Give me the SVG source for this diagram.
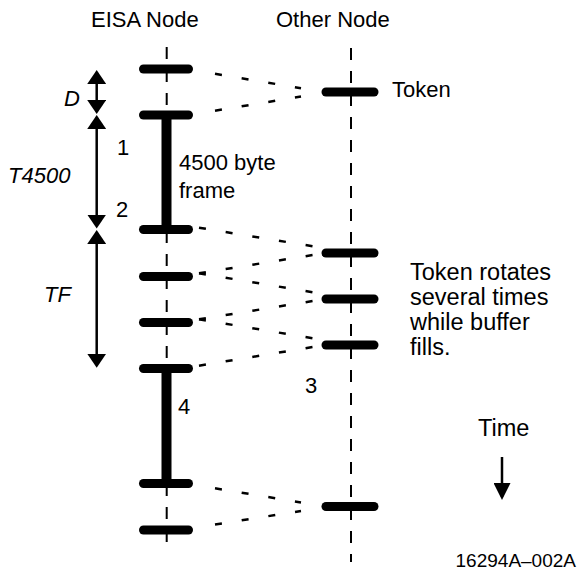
<svg xmlns="http://www.w3.org/2000/svg" width="577" height="580" viewBox="0 0 577 580">
<style>
text{font-family:"Liberation Sans",Arial,Helvetica,sans-serif;fill:#000}
.lbl{font-size:22px}
.big{font-size:23.5px}
.it{font-size:22px;font-style:italic}
.life{stroke:#000;stroke-width:2;stroke-dasharray:12 11;fill:none}
.bar{stroke:#000;stroke-width:9;stroke-linecap:round}
.frame{stroke:#000;stroke-width:10}
.msg{stroke:#000;stroke-width:2.5;stroke-dasharray:7 20;fill:none}
.dim{stroke:#000;stroke-width:2.5;fill:none;marker-start:url(#ah);marker-end:url(#ah)}
</style>
<defs>
<marker id="ah" viewBox="0 0 14 19" refX="11" refY="9.5" markerWidth="14" markerHeight="19" markerUnits="userSpaceOnUse" orient="auto-start-reverse">
<path d="M0,0 L14,9.5 L0,19 z" fill="#000"/>
</marker>
<marker id="ah2" viewBox="0 0 17 17" refX="14" refY="8.5" markerWidth="17" markerHeight="17" markerUnits="userSpaceOnUse" orient="auto">
<path d="M0,0 L17,8.5 L0,17 z" fill="#000"/>
</marker>
</defs>

<g id="eisa-node">
<text class="lbl" x="91" y="27">EISA Node</text>
<line class="life" x1="166.7" y1="47" x2="166.7" y2="542"/>
<line class="frame" x1="166.5" y1="115" x2="166.5" y2="229.5"/>
<line class="frame" x1="166.5" y1="368.5" x2="166.5" y2="483.5"/>
<line class="bar" x1="143.5" y1="69" x2="188.5" y2="69"/>
<line class="bar" x1="143.5" y1="115" x2="188.5" y2="115"/>
<line class="bar" x1="143.5" y1="229.5" x2="188.5" y2="229.5"/>
<line class="bar" x1="143.5" y1="276.5" x2="188.5" y2="276.5"/>
<line class="bar" x1="143.5" y1="322.5" x2="188.5" y2="322.5"/>
<line class="bar" x1="143.5" y1="368.5" x2="188.5" y2="368.5"/>
<line class="bar" x1="143.5" y1="483.5" x2="188.5" y2="483.5"/>
<line class="bar" x1="143.5" y1="530" x2="188.5" y2="530"/>
<text class="lbl" x="179" y="170">4500 byte</text>
<text class="lbl" x="179" y="198">frame</text>
<text class="lbl" x="117" y="155">1</text>
<text class="lbl" x="116" y="217">2</text>
<text class="lbl" x="178" y="414">4</text>
</g>

<g id="other-node">
<text class="lbl" x="276" y="27">Other Node</text>
<line class="life" x1="351" y1="48" x2="351" y2="562"/>
<line class="bar" x1="326" y1="92" x2="374" y2="92"/>
<line class="bar" x1="326" y1="253" x2="374" y2="253"/>
<line class="bar" x1="326" y1="299" x2="374" y2="299"/>
<line class="bar" x1="326" y1="345" x2="374" y2="345"/>
<line class="bar" x1="326" y1="506.5" x2="374" y2="506.5"/>
<text class="lbl" x="392" y="97">Token</text>
<text class="big" x="410" y="280">Token rotates</text>
<text class="big" x="410" y="305">several times</text>
<text class="big" x="410" y="330">while buffer</text>
<text class="big" x="410" y="355">fills.</text>
<text class="lbl" x="305" y="393">3</text>
</g>

<g id="connectors">
<line class="msg" x1="215" y1="73.8" x2="301" y2="88.2"/>
<line class="msg" x1="215" y1="110.7" x2="301" y2="96.5"/>
<line class="msg" x1="199" y1="227.7" x2="313" y2="246.3"/>
<line class="msg" x1="199" y1="273.3" x2="313" y2="255"/>
<line class="msg" x1="199" y1="273.3" x2="313" y2="292.3"/>
<line class="msg" x1="199" y1="319.3" x2="313" y2="301"/>
<line class="msg" x1="199" y1="319.3" x2="313" y2="338.3"/>
<line class="msg" x1="199" y1="365.7" x2="313" y2="347"/>
<line class="msg" x1="215" y1="488.3" x2="301" y2="502.5"/>
<line class="msg" x1="215" y1="524.5" x2="301" y2="511"/>
</g>

<g id="dimensions">
<line class="dim" x1="96.7" y1="73" x2="96.7" y2="111"/>
<line class="dim" x1="96.7" y1="118" x2="96.7" y2="225.5"/>
<line class="dim" x1="96.7" y1="233" x2="96.7" y2="364.7"/>
<text class="it" x="64" y="106">D</text>
<text class="it" x="8" y="183">T4500</text>
<text class="it" x="44" y="302">TF</text>
</g>

<g id="time">
<text class="big" x="478" y="436">Time</text>
<line stroke="#000" stroke-width="2.5" x1="502" y1="457" x2="502" y2="497" marker-end="url(#ah2)"/>
</g>

<text x="576" y="567" font-size="19" text-anchor="end">16294A–002A</text>
</svg>
